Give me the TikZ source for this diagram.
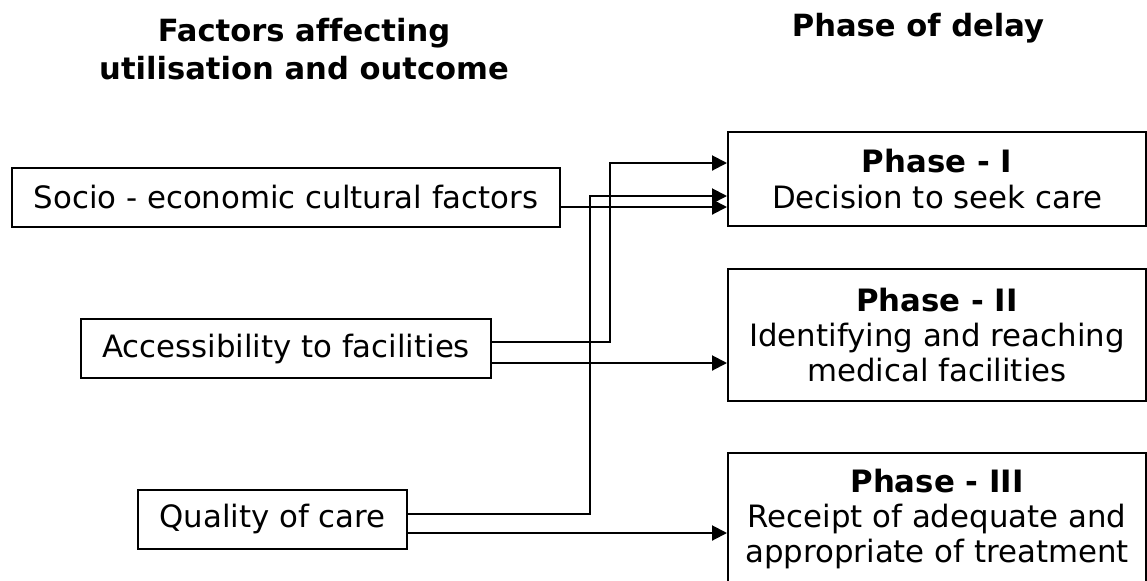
\documentclass[tikz,border=0pt]{standalone}
\usepackage{fontspec}
\setmainfont{DejaVu Sans}[Ligatures=NoCommon]
\usetikzlibrary{arrows.meta, positioning}
\tikzset{
  headtxt/.style={font=\fontsize{15.3}{19}\selectfont\bfseries,align=center},
  factbox/.style={draw=black,line width=1pt,inner sep=0pt,minimum height=29.5pt,font=\fontsize{15.4}{17.5}\selectfont},
  phasebox/.style={draw=black,line width=1pt,inner sep=0pt,minimum width=209pt,align=center,anchor=north west,font=\fontsize{15.4}{17.7}\selectfont},
  flowedge/.style={-{Triangle[length=7.5pt,width=7.5pt]},line width=1pt,black},
}
\begin{document}
\begin{tikzpicture}[x=0.5pt,y=-0.5pt]
  \useasboundingbox (0,0) rectangle (1147,580);
  % ---- column headings ----
  \node[headtxt] (hfact) at (304,49) {Factors affecting\\utilisation and outcome};
  \node[headtxt] (hphase) at (918,28) {Phase of delay};
  % ---- factors (left column) ----
  \node[factbox,minimum width=274pt] (soc) at (286,197.5) {Socio - economic cultural factors};
  \node[factbox,minimum width=205pt] (acc) at (286,348.5) {Accessibility to facilities};
  \node[factbox,minimum width=134.5pt] (qual) at (272.5,519) {Quality of care};
  % ---- phases (right column) ----
  \node[phasebox,minimum height=47pt] (ph1) at (727,131) {\textbf{Phase - I}\\Decision to seek care};
  \node[phasebox,minimum height=66pt] (ph2) at (727,268) {\textbf{Phase - II}\\Identifying and reaching\\medical facilities};
  \node[phasebox,minimum height=66pt] (ph3) at (727,452) {\textbf{Phase - III}\\Receipt of adequate and\\appropriate of treatment};
  % ---- connectors ----
  \draw[flowedge] ([yshift=-4.75pt]soc.east) -- ([yshift=-4.75pt]soc.east -| ph1.west);
  \draw[flowedge] ([yshift=3.25pt]acc.east) -- ++(118,0) |- ([yshift=8pt]ph1.west);
  \draw[flowedge] ([yshift=-7.25pt]acc.east) -- ([yshift=-7.25pt]acc.east -| ph2.west);
  \draw[flowedge] ([yshift=2.5pt]qual.east) -- ++(182,0) |- ([yshift=-8.5pt]ph1.west);
  \draw[flowedge] ([yshift=-7pt]qual.east) -- ([yshift=-7pt]qual.east -| ph3.west);
\end{tikzpicture}
\end{document}
